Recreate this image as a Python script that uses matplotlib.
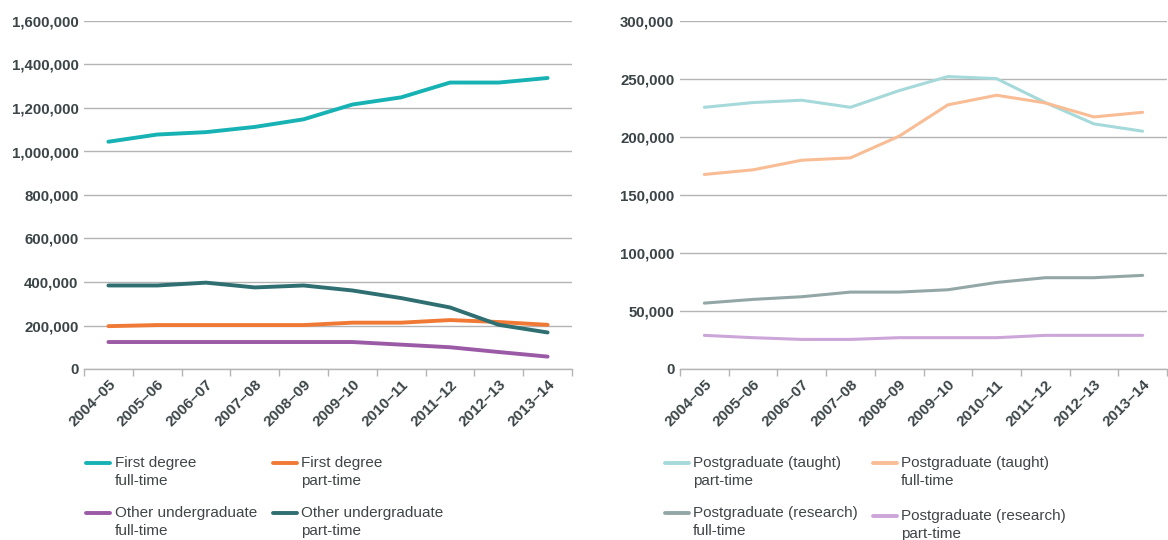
import matplotlib
matplotlib.use("Agg")
import matplotlib.pyplot as plt
from matplotlib.ticker import FuncFormatter, MultipleLocator

years = ["2004–05", "2005–06", "2006–07", "2007–08", "2008–09",
         "2009–10", "2010–11", "2011–12", "2012–13", "2013–14"]

first_degree_ft = [1045000, 1078000, 1089000, 1113000, 1148000, 1216000, 1249000, 1317000, 1317000, 1338000]
first_degree_pt = [197000, 202000, 202000, 202000, 202000, 213000, 213000, 225000, 216000, 203000]
other_ug_ft = [124000, 124000, 124000, 124000, 124000, 124000, 112000, 100000, 78000, 57000]
other_ug_pt = [384000, 384000, 397000, 375000, 384000, 361000, 326000, 283000, 203000, 168000]

pgt_pt = [225600, 229700, 231700, 225600, 240000, 252100, 250300, 229700, 211300, 205000]
pgt_ft = [167700, 171700, 180000, 182000, 200700, 227700, 236000, 229400, 217300, 221300]
pgr_ft = [56800, 60000, 62300, 66300, 66300, 68300, 74600, 78700, 78700, 80700]
pgr_pt = [29000, 27000, 25500, 25500, 27000, 27000, 27000, 29000, 29000, 29000]

left_series = [
    ("First degree\nfull-time", first_degree_ft, "#17b2b4"),
    ("First degree\npart-time", first_degree_pt, "#f07a35"),
    ("Other undergraduate\nfull-time", other_ug_ft, "#9b5aa5"),
    ("Other undergraduate\npart-time", other_ug_pt, "#2f6f71"),
]
right_series = [
    ("Postgraduate (taught)\npart-time", pgt_pt, "#a6d9da"),
    ("Postgraduate (taught)\nfull-time", pgt_ft, "#f9bd96"),
    ("Postgraduate (research)\nfull-time", pgr_ft, "#94a7a7"),
    ("Postgraduate (research)\npart-time", pgr_pt, "#cca6d8"),
]

W, H = 1168, 540
fig = plt.figure(figsize=(W / 100, H / 100), dpi=100)

TICK_COLOR = "#3b4446"
GRID_COLOR = "#b4b4b4"
TEXT_COLOR = "#404548"
FAMILY = ["Liberation Sans", "DejaVu Sans"]


def px_axes(x0, x1, y_top, y_bot):
    return fig.add_axes([x0 / W, 1 - y_bot / H, (x1 - x0) / W, (y_bot - y_top) / H])


def style(ax, ymax, step):
    ax.set_xlim(-0.5, len(years) - 0.5)
    ax.set_ylim(0, ymax)
    ax.yaxis.set_major_locator(MultipleLocator(step))
    ax.yaxis.set_major_formatter(FuncFormatter(lambda v, p: f"{int(v):,}"))
    ax.grid(axis="y", color=GRID_COLOR, linewidth=1.0)
    ax.set_axisbelow(True)
    for s in ["top", "right", "left"]:
        ax.spines[s].set_visible(False)
    ax.spines["bottom"].set_color(GRID_COLOR)
    ax.spines["bottom"].set_linewidth(1.0)
    ax.tick_params(axis="y", length=0, pad=4, colors=TICK_COLOR)
    ax.set_xticks(range(len(years)))
    ax.set_xticklabels(years, rotation=45, ha="right", rotation_mode="anchor")
    ax.set_xticks([i - 0.5 for i in range(len(years) + 1)], minor=True)
    ax.tick_params(axis="x", which="major", length=0, pad=6, colors=TICK_COLOR)
    ax.tick_params(axis="x", which="minor", length=5, color=GRID_COLOR, width=1.0)
    for lab in ax.get_yticklabels():
        lab.set_fontfamily(FAMILY)
        lab.set_fontweight("bold")
        lab.set_fontsize(10.8)
    for lab in ax.get_xticklabels():
        lab.set_fontfamily(FAMILY)
        lab.set_fontweight("bold")
        lab.set_fontsize(11)


def legend(series, entries, lw):
    # entries: (handle_x0, handle_x1, text_x, y) in pixels
    for (label, _, color), (hx0, hx1, tx, y) in zip(series, entries):
        fig.add_artist(plt.Line2D([hx0 / W, hx1 / W], [1 - y / H, 1 - y / H],
                                  transform=fig.transFigure, color=color,
                                  linewidth=lw, solid_capstyle="round"))
        fig.text(tx / W, 1 - (y - 7) / H, label, ha="left", va="top",
                 fontsize=11, color=TEXT_COLOR, linespacing=1.4,
                 family=FAMILY)


ax1 = px_axes(84, 572, 21, 369)
x = range(len(years))
for label, vals, color in left_series:
    ax1.plot(x, vals, color=color, linewidth=2.8, solid_capstyle="round")
style(ax1, 1600000, 200000)

ax2 = px_axes(680, 1167, 21, 369)
for label, vals, color in right_series:
    ax2.plot(x, vals, color=color, linewidth=2.2, solid_capstyle="round")
style(ax2, 300000, 50000)

legend(left_series, [(86, 110, 115, 463), (273, 297, 301, 463),
                     (86, 110, 115, 513), (273, 297, 301, 513)], 2.8)
legend(right_series, [(665, 689, 693, 463), (873, 897, 901, 463),
                      (665, 689, 693, 513), (873, 897, 901, 516)], 2.8)

fig.savefig("out.png", dpi=100)
